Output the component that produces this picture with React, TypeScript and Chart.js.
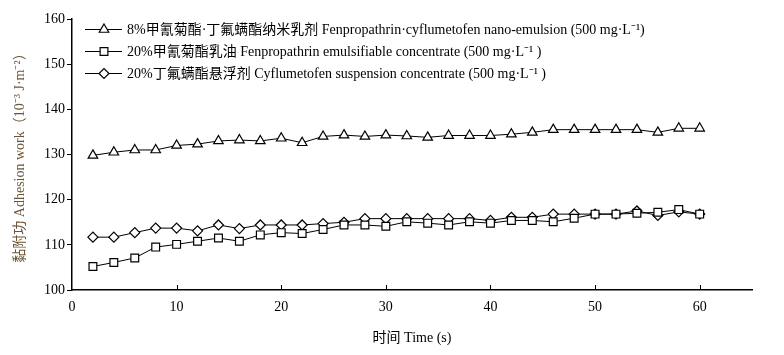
import React, { useEffect, useRef } from "react";
import { Chart, registerables } from "chart.js";

Chart.register(...registerables);

const times = [2, 4, 6, 8, 10, 12, 14, 16, 18, 20, 22, 24, 26, 28, 30, 32, 34, 36, 38, 40, 42, 44, 46, 48, 50, 52, 54, 56, 58, 60];

const nanoEmulsion = [129.8, 130.5, 131.0, 131.0, 132.0, 132.3, 133.0, 133.2, 133.0, 133.6, 132.6, 134.0, 134.3, 134.0, 134.3, 134.1, 133.8, 134.2, 134.2, 134.2, 134.5, 134.9, 135.5, 135.5, 135.5, 135.5, 135.5, 134.9, 135.8, 135.8];
const emulsifiable = [105.2, 106.1, 107.1, 109.5, 110.1, 110.8, 111.5, 110.8, 112.2, 112.7, 112.5, 113.4, 114.4, 114.4, 114.1, 115.1, 114.8, 114.4, 115.1, 114.8, 115.4, 115.4, 115.1, 115.9, 116.8, 116.8, 117.0, 117.2, 117.8, 116.8];
const suspension = [111.7, 111.7, 112.7, 113.7, 113.7, 113.1, 114.4, 113.6, 114.4, 114.4, 114.4, 114.7, 115.0, 115.8, 115.8, 115.8, 115.8, 115.8, 115.8, 115.4, 116.1, 116.1, 116.8, 116.8, 116.8, 116.8, 117.5, 116.5, 117.3, 116.8];

const seriesLabels = [
  "8%甲氰菊酯·丁氟螨酯纳米乳剂 Fenpropathrin·cyflumetofen nano-emulsion (500 mg·L⁻¹)",
  "20%甲氰菊酯乳油 Fenpropathrin emulsifiable concentrate (500 mg·L⁻¹ )",
  "20%丁氟螨酯悬浮剂 Cyflumetofen suspension concentrate (500 mg·L⁻¹ )",
];
const seriesStyles = ["triangle", "rect", "rectRot"];

const xTickValues = [0, 10, 20, 30, 40, 50, 60];
const yTickValues = [100, 110, 120, 130, 140, 150, 160];

const xTitle = "时间 Time (s)";
const yTitle = "黏附功 Adhesion work（10⁻³ J·m⁻²）";

const FONT = "'Liberation Serif', 'Times New Roman', 'Noto Sans CJK SC', serif";

function drawMarker(ctx: CanvasRenderingContext2D, style: string, x: number, y: number, r: number) {
  ctx.beginPath();
  if (style === "triangle") {
    for (let k = 0; k < 3; k++) {
      const a = (k * 2 * Math.PI) / 3;
      const px = x + Math.sin(a) * r;
      const py = y - Math.cos(a) * r;
      if (k === 0) ctx.moveTo(px, py);
      else ctx.lineTo(px, py);
    }
    ctx.closePath();
  } else if (style === "rect") {
    const s = Math.SQRT1_2 * r;
    ctx.rect(x - s, y - s, 2 * s, 2 * s);
  } else {
    ctx.moveTo(x - r, y);
    ctx.lineTo(x, y + r);
    ctx.lineTo(x + r, y);
    ctx.lineTo(x, y - r);
    ctx.closePath();
  }
  ctx.fillStyle = "#fff";
  ctx.fill();
  ctx.strokeStyle = "#000";
  ctx.lineWidth = 1.2;
  ctx.stroke();
}

export default function App() {
  const ref = useRef<HTMLCanvasElement | null>(null);

  useEffect(() => {
    if (!ref.current) return;
    const seriesData = [nanoEmulsion, emulsifiable, suspension];
    const radii = [5.5, 5.5, 5];

    const extras = {
      id: "extras",
      afterDraw(chart: any) {
        const ctx = chart.ctx;
        const area = chart.chartArea;
        const xs = chart.scales.x;
        ctx.save();
        ctx.strokeStyle = "#000";
        ctx.lineWidth = 1;
        xTickValues.forEach((v) => {
          if (v === 0) return;
          const px = Math.round(xs.getPixelForValue(v)) + 0.5;
          ctx.beginPath();
          ctx.moveTo(px, area.bottom);
          ctx.lineTo(px, area.bottom - 5);
          ctx.stroke();
        });
        ctx.fillStyle = "#000";
        ctx.font = `14px ${FONT}`;
        ctx.textAlign = "center";
        ctx.textBaseline = "middle";
        ctx.fillText(xTitle, (area.left + area.right) / 2, 338);
        ctx.save();
        ctx.translate(20, (area.top + area.bottom) / 2);
        ctx.rotate(-Math.PI / 2);
        ctx.fillStyle = "#6b5637";
        ctx.fillText(yTitle, 0, 0);
        ctx.restore();
        ctx.font = `14px ${FONT}`;
        ctx.textAlign = "left";
        seriesLabels.forEach((label, i) => {
          const y = 29 + i * 22;
          ctx.strokeStyle = "#000";
          ctx.lineWidth = 1;
          ctx.beginPath();
          ctx.moveTo(85, y + 0.5);
          ctx.lineTo(122, y + 0.5);
          ctx.stroke();
          drawMarker(ctx, seriesStyles[i], 104, y + 0.5, radii[i]);
          ctx.fillStyle = "#000";
          ctx.fillText(label, 127, y + 1);
        });
        ctx.restore();
      },
    };

    const chart = new Chart(ref.current, {
      type: "line",
      data: {
        datasets: seriesData.map((d, i) => ({
          label: seriesLabels[i],
          data: d.map((v, j) => ({ x: times[j], y: v })),
          borderColor: "#000",
          borderWidth: 1,
          pointStyle: seriesStyles[i] as any,
          pointRadius: radii[i],
          pointBackgroundColor: "#fff",
          pointBorderColor: "#000",
          pointBorderWidth: 1.2,
          tension: 0,
          fill: false,
        })),
      },
      options: {
        responsive: false,
        animation: false,
        events: [],
        layout: { padding: { top: 19, right: 32, left: 0, bottom: 0 } },
        plugins: { legend: { display: false }, tooltip: { enabled: false } },
        scales: {
          x: {
            type: "linear",
            min: 0,
            max: 65,
            afterBuildTicks: (scale: any) => {
              scale.ticks = xTickValues.map((v) => ({ value: v }));
            },
            afterFit: (scale: any) => {
              scale.height = 65;
            },
            grid: { display: true, drawOnChartArea: false, drawTicks: false },
            border: { display: true, color: "#000", width: 1.5 },
            ticks: {
              color: "#000",
              padding: 9,
              font: { family: FONT, size: 14 },
              maxRotation: 0,
            },
          },
          y: {
            type: "linear",
            min: 100,
            max: 160,
            afterBuildTicks: (scale: any) => {
              scale.ticks = yTickValues.map((v) => ({ value: v }));
            },
            afterFit: (scale: any) => {
              scale.width = 72;
            },
            grid: { display: true, drawOnChartArea: false, drawTicks: true, tickLength: 5, color: "#000" },
            border: { display: true, color: "#000", width: 1.5 },
            ticks: {
              color: "#000",
              padding: 2,
              font: { family: FONT, size: 14 },
            },
          },
        },
      },
      plugins: [extras],
    });
    return () => chart.destroy();
  }, []);

  return (
    <div style={{ position: "fixed", left: 0, top: 0, width: 784, height: 355, background: "#fff" }}>
      <canvas ref={ref} width={784} height={355} style={{ width: 784, height: 355 }} />
    </div>
  );
}
